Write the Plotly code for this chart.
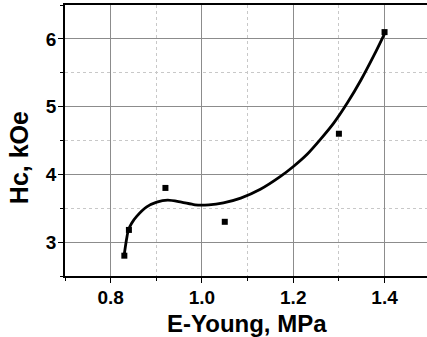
import plotly.graph_objects as go

# measured points
e_young = [0.83, 0.84, 0.92, 1.05, 1.30, 1.40]
hc = [2.80, 3.18, 3.80, 3.30, 4.60, 6.10]

# fitted curve
fit_x = [0.829, 0.835, 0.839, 0.846, 0.857, 0.879, 0.901, 0.925, 0.955, 0.985, 1.015, 1.047,
         1.085, 1.128, 1.172, 1.201, 1.231, 1.260, 1.289, 1.319, 1.348, 1.377, 1.401]
fit_y = [2.78, 3.05, 3.18, 3.28, 3.38, 3.52, 3.59, 3.62, 3.59, 3.55, 3.55, 3.58,
         3.65, 3.78, 3.97, 4.12, 4.30, 4.52, 4.76, 5.06, 5.39, 5.76, 6.09]

x_ticks = [0.8, 1.0, 1.2, 1.4]
x_ticklabels = ["0.8", "1.0", "1.2", "1.4"]
y_ticks = [3, 4, 5, 6]
y_ticklabels = ["3", "4", "5", "6"]
x_title = "E-Young, MPa"
y_title = "Hc, kOe"

FONT = "Liberation Sans, Arial, sans-serif"
tickfont = dict(size=19, family=FONT, color="black", weight="bold")

fig = go.Figure()
fig.add_trace(go.Scatter(x=fit_x, y=fit_y, mode="lines",
                         line=dict(color="black", width=2.8, shape="spline", smoothing=0.8),
                         hoverinfo="skip", showlegend=False))
fig.add_trace(go.Scatter(x=e_young, y=hc, mode="markers",
                         marker=dict(symbol="square", size=6, color="black"),
                         showlegend=False))

fig.update_layout(
    width=427, height=337,
    margin=dict(l=65, r=0, t=5, b=61),
    paper_bgcolor="white", plot_bgcolor="white",
    font=dict(family=FONT, color="black"),
    xaxis=dict(
        range=[0.7, 1.493],
        tickvals=x_ticks, ticktext=x_ticklabels,
        tickfont=tickfont,
        ticks="outside", ticklen=5, tickwidth=1, tickcolor="black",
        ticklabelstandoff=-2,
        showline=True, linecolor="black", linewidth=1.5, mirror=True,
        showgrid=True, gridcolor="#8c8c8c", gridwidth=1,
        zeroline=False,
        minor=dict(dtick=0.1, tick0=0.7, ticks="outside", ticklen=3, tickcolor="black",
                   showgrid=True, gridcolor="#c8c8c8", griddash="dot", gridwidth=1),
    ),
    yaxis=dict(
        range=[2.5, 6.5],
        tickvals=y_ticks, ticktext=y_ticklabels,
        tickfont=tickfont,
        ticks="outside", ticklen=5, tickwidth=1, tickcolor="black",
        ticklabelstandoff=-2,
        showline=True, linecolor="black", linewidth=1.5, mirror=False,
        showgrid=True, gridcolor="#8c8c8c", gridwidth=1,
        zeroline=False,
        minor=dict(dtick=0.5, tick0=2.5, ticks="outside", ticklen=3, tickcolor="black",
                   showgrid=True, gridcolor="#c8c8c8", griddash="dot", gridwidth=1),
    ),
    annotations=[
        dict(text=x_title, xref="paper", yref="paper",
             x=0.504, y=-0.176, xanchor="center", yanchor="middle", showarrow=False,
             font=dict(size=24, family=FONT, color="black", weight="bold")),
        dict(text=y_title, xref="paper", yref="paper",
             x=-0.127, y=0.435, xanchor="center", yanchor="middle", showarrow=False,
             textangle=-90, font=dict(size=25, family=FONT, color="black", weight="bold")),
    ],
)

fig.write_html("out.html")
